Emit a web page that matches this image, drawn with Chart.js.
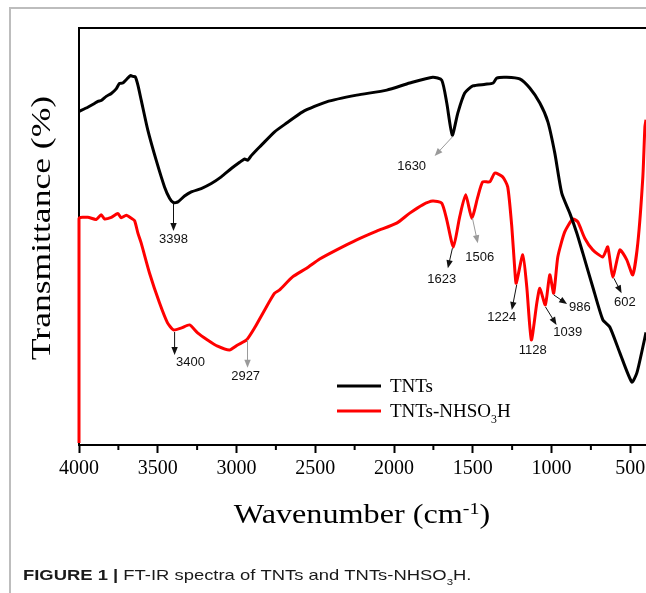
<!DOCTYPE html>
<html>
<head>
<meta charset="utf-8">
<script src="https://cdn.jsdelivr.net/npm/chart.js@4.4.1/dist/chart.umd.min.js"></script>
<style>
  html, body { margin: 0; padding: 0; background: #fff; }
  #wrap { width: 646px; height: 593px; }
</style>
</head>
<body>
<div id="wrap"><canvas id="ir"></canvas></div>
<script>
// FT-IR spectra (wavenumber in cm-1, transmittance in arbitrary %)
const xTickValues = [4000, 3500, 3000, 2500, 2000, 1500, 1000, 500];
const xMinorTicks = [3750, 3250, 2750, 2250, 1750, 1250, 750];

const wnTNTs = [4000, 3944, 3902, 3880, 3859, 3827, 3795, 3764, 3743, 3722, 3700, 3673, 3658, 3643, 3626, 3605,
  3563, 3510, 3457, 3425, 3400, 3372, 3330, 3287, 3224, 3160, 3097, 3033, 2980, 2949, 2928, 2906, 2874, 2842,
  2758, 2682, 2580, 2428, 2237, 2046, 1900, 1754, 1697, 1665, 1630, 1595, 1551, 1500, 1420, 1370, 1348, 1284, 1202,
  1138, 1074, 1023, 979, 935, 884, 839, 801, 738, 674, 630, 566, 490, 458, 420, 400];
const tTNTs = [80.0, 81.0, 81.9, 82.4, 82.6, 83.6, 84.3, 85.4, 86.7, 86.8, 87.6, 88.6, 88.4, 88.3, 86.3, 82.7,
  75.5, 68.3, 61.9, 59.2, 58.1, 58.3, 59.7, 60.7, 61.5, 62.7, 64.3, 66.3, 67.8, 68.6, 68.3, 69.4, 70.7, 71.9,
  75.1, 77.2, 79.9, 82.3, 83.9, 85.1, 86.8, 88.2, 87.5, 82.0, 74.3, 79.6, 84.4, 86.1, 86.5, 86.8, 88.0, 88.2, 87.8,
  85.6, 82.0, 77.5, 70.0, 60.4, 55.6, 50.8, 46.0, 37.9, 30.0, 28.3, 22.1, 15.1, 17.3, 23.5, 27.0];

const wnSulfo = [4000, 4000, 3944, 3891, 3859, 3838, 3795, 3753, 3732, 3700, 3668, 3647, 3626, 3605, 3552, 3489,
  3438, 3400, 3349, 3298, 3247, 3184, 3120, 3044, 2993, 2936, 2885, 2821, 2758, 2726, 2644, 2555, 2472, 2364,
  2237, 2110, 1983, 1900, 1818, 1754, 1697, 1665, 1623, 1583, 1545, 1506, 1468, 1437, 1392, 1360, 1310, 1278,
  1252, 1233, 1224, 1182, 1157, 1128, 1093, 1074, 1039, 1011, 986, 960, 916, 865, 833, 789, 738, 674, 643,
  611, 566, 522, 484, 452, 420, 407, 400];
const tSulfo = [0.5, 54.3, 54.6, 54.1, 55.2, 54.2, 54.6, 55.5, 54.5, 55.1, 54.4, 53.8, 50.8, 48.4, 41.2, 34.1,
  29.3, 27.6, 28.1, 28.8, 26.9, 25.2, 23.7, 22.8, 24.0, 25.2, 28.1, 32.4, 36.4, 37.2, 40.3, 42.4, 44.6, 46.8,
  49.2, 51.3, 53.2, 55.6, 57.6, 58.5, 58.0, 54.0, 47.5, 54.7, 60.0, 54.4, 59.5, 63.1, 63.1, 65.2, 64.3, 61.9,
  52.3, 42.0, 38.8, 45.6, 37.9, 25.2, 34.1, 37.6, 33.6, 40.8, 36.4, 45.1, 51.1, 54.2, 53.5, 49.6, 46.8, 45.1, 47.5,
  40.3, 46.8, 44.4, 40.8, 48.4, 64.3, 76.3, 78.0];

// peak labels: arrow tail [wn, T], arrow head [wn, T], label centre [wn, T]
const peakText = ['3398', '3400', '2927', '1630', '1623', '1506', '1224', '1128', '1039', '986', '602'];
const peakFrom = [[3400, 58.0], [3393, 27.1], [2930, 25.2], [1629, 73.9], [1629, 47.2], [1502, 54.4], [1221, 38.4], null, [1038, 33.1], [986, 36.0], [604, 40.0]];
const peakTo = [[3400, 51.3], [3393, 21.6], [2930, 18.5], [1742, 69.3], [1658, 42.4], [1468, 48.4], [1252, 32.4], null, [968, 28.8], [901, 33.8], [555, 36.4]];
const peakAt = [[3400, 49.4], [3292, 19.9], [2942, 16.5], [1888, 66.9], [1697, 39.6], [1456, 45.1], [1316, 30.5], [1119, 22.8], [897, 26.9], [820, 33.1], [534, 34.3]];
const peakFaint = [false, false, true, true, false, true, false, false, false, false, false];

const serif = "'Liberation Serif', 'Times New Roman', serif";
const sans = "'Liberation Sans', Arial, sans-serif";

function toXY(wn, t) {
  return wn.map((w, i) => ({x: w, y: t[i]}));
}

function arrow(ctx, x1, y1, x2, y2, col) {
  const a = Math.atan2(y2 - y1, x2 - x1);
  ctx.strokeStyle = col;
  ctx.fillStyle = col;
  ctx.lineWidth = 1;
  ctx.beginPath();
  ctx.moveTo(x1, y1);
  ctx.lineTo(x2 - 5 * Math.cos(a), y2 - 5 * Math.sin(a));
  ctx.stroke();
  ctx.beginPath();
  ctx.moveTo(x2, y2);
  ctx.lineTo(x2 - 8 * Math.cos(a) + 3.2 * Math.sin(a), y2 - 8 * Math.sin(a) - 3.2 * Math.cos(a));
  ctx.lineTo(x2 - 8 * Math.cos(a) - 3.2 * Math.sin(a), y2 - 8 * Math.sin(a) + 3.2 * Math.cos(a));
  ctx.closePath();
  ctx.fill();
}

// draws pieces like [['TNTs-NHSO', 0], ['3', 1], ['H', 0]] (1 = sub, -1 = sup)
function richText(ctx, parts, x, y, size, family, weight) {
  let cx = x;
  for (const [txt, pos, w] of parts) {
    const s = pos ? size * 0.62 : size;
    ctx.font = (w || weight || '') + ' ' + s + 'px ' + family;
    ctx.fillText(txt, cx, y + pos * size * 0.32);
    cx += ctx.measureText(txt).width;
  }
  return cx - x;
}
function richWidth(ctx, parts, size, family, weight) {
  let w = 0;
  for (const [txt, pos, wt] of parts) {
    ctx.font = (wt || weight || '') + ' ' + (pos ? size * 0.62 : size) + 'px ' + family;
    w += ctx.measureText(txt).width;
  }
  return w;
}

const decor = {
  id: 'decor',
  beforeDraw(chart) {
    const ctx = chart.ctx;
    ctx.save();
    ctx.fillStyle = '#fff';
    ctx.fillRect(0, 0, chart.width, chart.height);
    // figure frame
    ctx.strokeStyle = '#bdbdbd';
    ctx.lineWidth = 2;
    ctx.beginPath();
    ctx.moveTo(10, chart.height);
    ctx.lineTo(10, 8);
    ctx.lineTo(chart.width, 8);
    ctx.stroke();
    ctx.restore();
  },
  beforeDatasetsDraw(chart) {
    const {ctx, chartArea: a} = chart;
    ctx.save();
    ctx.strokeStyle = '#000';
    ctx.lineWidth = 2;
    ctx.beginPath();
    ctx.moveTo(a.left, a.bottom);
    ctx.lineTo(a.left, a.top);
    ctx.lineTo(a.right, a.top);
    ctx.stroke();
    ctx.restore();
  },
  afterDraw(chart) {
    const {ctx, chartArea: a, scales: {x, y}} = chart;
    ctx.save();
    // minor ticks
    ctx.strokeStyle = '#000';
    ctx.lineWidth = 2;
    xMinorTicks.forEach(v => {
      const px = x.getPixelForValue(v);
      ctx.beginPath();
      ctx.moveTo(px, a.bottom);
      ctx.lineTo(px, a.bottom + 5);
      ctx.stroke();
    });
    // peak arrows and labels
    ctx.font = '13px ' + sans;
    ctx.textAlign = 'center';
    ctx.textBaseline = 'middle';
    peakText.forEach((t, i) => {
      if (peakFrom[i]) {
        arrow(ctx, x.getPixelForValue(peakFrom[i][0]), y.getPixelForValue(peakFrom[i][1]),
          x.getPixelForValue(peakTo[i][0]), y.getPixelForValue(peakTo[i][1]),
          peakFaint[i] ? '#9a9a9a' : '#111');
      }
      ctx.fillStyle = '#111';
      ctx.fillText(t, x.getPixelForValue(peakAt[i][0]), y.getPixelForValue(peakAt[i][1]));
    });
    // legend
    const lx = a.left + 258, ly = a.top + 358;
    ctx.lineWidth = 3;
    ctx.strokeStyle = '#000';
    ctx.beginPath(); ctx.moveTo(lx, ly); ctx.lineTo(lx + 44, ly); ctx.stroke();
    ctx.strokeStyle = '#ff0000';
    ctx.beginPath(); ctx.moveTo(lx, ly + 25); ctx.lineTo(lx + 44, ly + 25); ctx.stroke();
    ctx.fillStyle = '#000';
    ctx.textAlign = 'left';
    ctx.textBaseline = 'alphabetic';
    richText(ctx, [['TNTs', 0]], lx + 53, ly + 6, 19, serif);
    richText(ctx, [['TNTs-NHSO', 0], ['3', 1], ['H', 0]], lx + 53, ly + 31, 19, serif);
    // x title, slightly widened like the original
    const xt = [['Wavenumber (cm', 0], ['-1', -1], [')', 0]];
    const xw = richWidth(ctx, xt, 28, serif) * 1.15;
    ctx.save();
    ctx.translate(362 - xw / 2, 523);
    ctx.scale(1.15, 1);
    richText(ctx, xt, 0, 0, 28, serif);
    ctx.restore();
    // y title
    ctx.save();
    ctx.translate(50, 228);
    ctx.rotate(-Math.PI / 2);
    ctx.scale(1.27, 1);
    ctx.font = '28px ' + serif;
    ctx.textAlign = 'center';
    ctx.fillText('Transmittance (%)', 0, 0);
    ctx.restore();
    // caption
    ctx.save();
    ctx.fillStyle = '#1a1a1a';
    ctx.translate(23, 580);
    ctx.scale(1.27, 1);
    richText(ctx, [['FIGURE 1', 0, 'bold'], [' | ', 0, 'bold'], ['FT-IR spectra of TNTs and TNTs-NHSO', 0], ['3', 1], ['H.', 0]],
      0, 0, 14.5, sans);
    ctx.restore();
    ctx.restore();
  }
};

new Chart(document.getElementById('ir'), {
  type: 'line',
  data: {
    datasets: [
      {label: 'TNTs', data: toXY(wnTNTs, tTNTs), borderColor: '#000', borderWidth: 3, pointRadius: 0, tension: 0.2, clip: 4},
      {label: 'TNTs-NHSO3H', data: toXY(wnSulfo, tSulfo), borderColor: '#ff0000', borderWidth: 3, pointRadius: 0, tension: 0.2, clip: 4}
    ]
  },
  options: {
    responsive: true,
    maintainAspectRatio: false,
    animation: false,
    events: [],
    layout: {padding: {left: 79, top: 28, right: 0, bottom: 108}},
    plugins: {legend: {display: false}, tooltip: {enabled: false}},
    scales: {
      x: {
        type: 'linear',
        reverse: true,
        min: 400,
        max: 4000,
        afterBuildTicks: s => { s.ticks = xTickValues.map(value => ({value})); },
        afterFit: s => { s.height = 40; s.paddingLeft = 0; s.paddingRight = 0; },
        ticks: {color: '#000', padding: 4, maxRotation: 0, autoSkip: false, callback: v => String(v),
          font: {family: serif, size: 20}},
        grid: {drawOnChartArea: false, tickLength: 8, tickWidth: 2, tickColor: '#000'},
        border: {color: '#000', width: 2}
      },
      y: {display: false, min: 0, max: 100}
    }
  },
  plugins: [decor]
});
</script>
</body>
</html>
